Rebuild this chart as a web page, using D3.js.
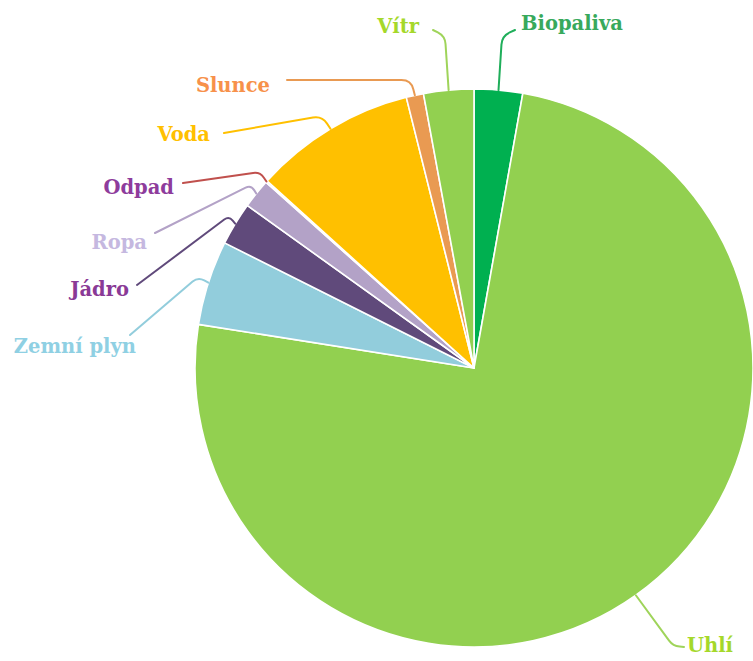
<!DOCTYPE html>
<html>
<head>
<meta charset="utf-8">
<script src="https://cdn.jsdelivr.net/npm/d3@7"></script>
<style>
  html, body { margin: 0; padding: 0; background: #ffffff; }
  svg { display: block; }
  .lbl { font-family: "DejaVu Serif", serif; font-weight: bold; font-size: 19.5px; }
</style>
</head>
<body>
<svg id="chart" width="753" height="661"></svg>
<script>
// Energy sources, share in percent (clockwise from 12 o'clock)
const categories = ["Biopaliva", "Uhlí", "Zemní plyn", "Jádro", "Ropa", "Odpad", "Voda", "Slunce", "Vítr"];
const shares     = [2.8, 74.7, 4.9, 2.5, 1.7, 0.1, 9.4, 1.0, 2.9];
const sliceColors = ["#00b050", "#92d050", "#92cddc", "#604a7b", "#b3a2c7", "#c0504d", "#ffc000", "#e99a52", "#92d050"];
const textColors  = ["#38a95c", "#a5d82a", "#8fd0e3", "#8a3a96", "#c5b8e0", "#8e3c9c", "#ffc000", "#f7914a", "#a5d82a"];
const lineColors  = ["#1fae5a", "#9fd45a", "#92cddc", "#604a7b", "#b3a2c7", "#c0504d", "#ffc000", "#e99a52", "#9fd45a"];

// Label placement: text anchor point, elbow of the leader line, and where the leader ends
const labelLayout = {
  "Biopaliva":  { x: 521, y: 30,  anchor: "start", elbow: [502, 36],  end: [515, 30] },
  "Uhlí":       { x: 687, y: 652, anchor: "start", elbow: [673, 646], end: [684, 647] },
  "Zemní plyn": { x: 136, y: 353, anchor: "end",   elbow: [198, 277], end: [130, 335] },
  "Jádro":      { x: 129, y: 296, anchor: "end",   elbow: [229, 216], end: [137, 285] },
  "Ropa":       { x: 147, y: 249, anchor: "end",   elbow: [251, 185], end: [155, 233] },
  "Odpad":      { x: 174, y: 194, anchor: "end",   elbow: [260, 172], end: [183, 183] },
  "Voda":       { x: 210, y: 141, anchor: "end",   elbow: [322, 116], end: [224, 133] },
  "Slunce":     { x: 270, y: 92,  anchor: "end",   elbow: [411, 80],  end: [287, 80] },
  "Vítr":       { x: 419, y: 33,  anchor: "end",   elbow: [445, 36],  end: [433, 30] }
};

const cx = 474, cy = 368, radius = 279;

const svg = d3.select("#chart");
const g = svg.append("g").attr("transform", `translate(${cx},${cy})`);

const data = categories.map((c, i) => ({ name: c, value: shares[i], i }));

const pie = d3.pie().sort(null).value(d => d.value).startAngle(0).endAngle(2 * Math.PI);
const arcs = pie(data);

const arc = d3.arc().innerRadius(0).outerRadius(radius);
const rimArc = d3.arc().innerRadius(radius).outerRadius(radius);

g.selectAll("path.slice")
  .data(arcs)
  .join("path")
  .attr("class", "slice")
  .attr("d", arc)
  .attr("fill", d => sliceColors[d.data.i])
  .attr("stroke", "#ffffff")
  .attr("stroke-width", 1.6)
  .attr("stroke-linejoin", "round");

// Leader lines: short run out of the rim, rounded corner, then straight to the label
function leaderPath(d) {
  const L = labelLayout[d.data.name];
  const [sx, sy] = rimArc.centroid(d).map((v, k) => v + (k ? cy : cx));
  const [ex, ey] = L.elbow;
  const [tx, ty] = L.end;
  const lerp = (a, b, t) => a + (b - a) * t;
  const d1 = Math.hypot(ex - sx, ey - sy), d2 = Math.hypot(tx - ex, ty - ey);
  const rr = Math.min(14, d1 * 0.6, d2 * 0.6);
  const p = d3.path();
  p.moveTo(sx, sy);
  p.lineTo(lerp(ex, sx, rr / d1), lerp(ey, sy, rr / d1));
  p.quadraticCurveTo(ex, ey, lerp(ex, tx, rr / d2), lerp(ey, ty, rr / d2));
  p.lineTo(tx, ty);
  return p.toString();
}

svg.selectAll("path.leader")
  .data(arcs)
  .join("path")
  .attr("class", "leader")
  .attr("d", leaderPath)
  .attr("fill", "none")
  .attr("stroke", d => lineColors[d.data.i])
  .attr("stroke-width", 2)
  .attr("stroke-linecap", "round");

svg.selectAll("text.lbl")
  .data(arcs)
  .join("text")
  .attr("class", "lbl")
  .attr("x", d => labelLayout[d.data.name].x)
  .attr("y", d => labelLayout[d.data.name].y)
  .attr("text-anchor", d => labelLayout[d.data.name].anchor)
  .attr("fill", d => textColors[d.data.i])
  .text(d => d.data.name);
</script>
</body>
</html>
